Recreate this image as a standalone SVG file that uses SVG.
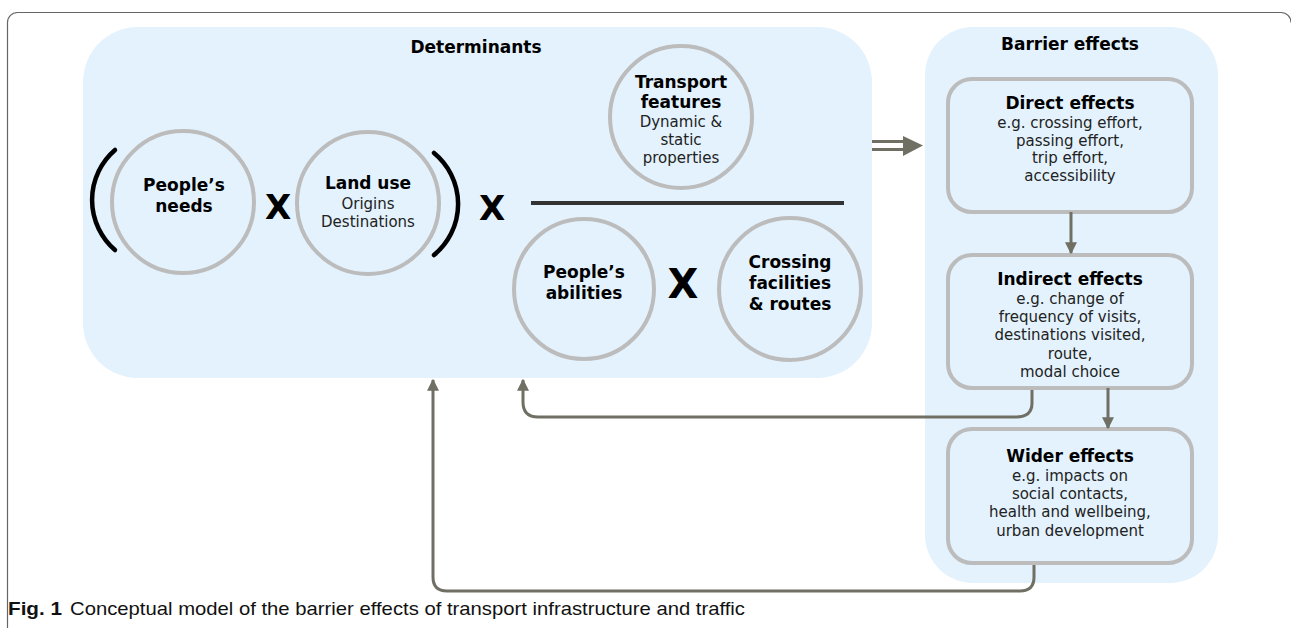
<svg xmlns="http://www.w3.org/2000/svg" width="1291" height="628" viewBox="0 0 1291 628">
<defs>
<style>
.panel{fill:#e3f2fd;stroke:none}
.circ{fill:none;stroke:#bcbcbc;stroke-width:4}
.box{fill:none;stroke:#bcbcbc;stroke-width:4}
.t{font-family:"DejaVu Sans",Verdana,sans-serif;text-anchor:middle;fill:#000}
.b{font-weight:bold;font-size:17px}
.r{font-size:15px;fill:#222}
.x{font-weight:bold;font-size:34px}
.con{fill:none;stroke:#706f63;stroke-width:3}
.paren{fill:none;stroke:#000;stroke-width:4.5;stroke-linecap:round}
.cap{font-family:"Liberation Sans",Arial,sans-serif;font-size:19px;fill:#111}
</style>
<marker id="ah" markerUnits="userSpaceOnUse" markerWidth="12" markerHeight="12" viewBox="0 0 10 10" refX="9" refY="5" orient="auto">
<path d="M0,0 L10,5 L0,10 z" fill="#706f63"/>
</marker>
</defs>
<rect width="1291" height="628" fill="#fff"/>
<path d="M7.5,628 V22.5 A10,10 0 0 1 17.5,12.5 H1281 A10,10 0 0 1 1291,22.5" fill="none" stroke="#666" stroke-width="1.2"/>

<g id="determinants">
<rect class="panel" x="83" y="27" width="789" height="351" rx="55" ry="55"/>
<text class="t b" x="476" y="53">Determinants</text>
</g>
<g id="barrier-effects">
<rect class="panel" x="925" y="27" width="293" height="556" rx="48" ry="48"/>
<text class="t b" x="1070" y="50">Barrier effects</text>
</g>

<g id="peoples-needs">
<circle class="circ" cx="183" cy="202" r="71"/>
<text class="t b" x="184" y="191">People’s</text>
<text class="t b" x="184" y="212">needs</text>
</g>
<g id="land-use">
<circle class="circ" cx="368" cy="203" r="71"/>
<text class="t b" x="368" y="189">Land use</text>
<text class="t r" x="368" y="209">Origins</text>
<text class="t r" x="368" y="227">Destinations</text>
</g>
<g id="operators">
<path class="paren" d="M115,150 A66,66 0 0 0 115,250"/>
<path class="paren" d="M434,153 A66,66 0 0 1 434,255"/>
<text class="t x" x="278" y="219">X</text>
<text class="t x" x="492" y="220">X</text>
<line x1="531" y1="203" x2="844" y2="203" stroke="#333" stroke-width="4"/>
<text class="t x" x="683" y="298" style="font-size:40px">X</text>
</g>
<g id="transport-features">
<circle class="circ" cx="681" cy="117" r="71"/>
<text class="t b" x="681" y="88">Transport</text>
<text class="t b" x="681" y="108">features</text>
<text class="t r" x="681" y="127">Dynamic &amp;</text>
<text class="t r" x="681" y="145">static</text>
<text class="t r" x="681" y="163">properties</text>
</g>
<g id="peoples-abilities">
<circle class="circ" cx="584" cy="289" r="70"/>
<text class="t b" x="584" y="278">People’s</text>
<text class="t b" x="584" y="299">abilities</text>
</g>
<g id="crossing-facilities">
<circle class="circ" cx="790" cy="289" r="71"/>
<text class="t b" x="790" y="268">Crossing</text>
<text class="t b" x="790" y="289">facilities</text>
<text class="t b" x="790" y="310">&amp; routes</text>
</g>

<g id="direct-effects">
<rect class="box" x="948" y="79" width="244" height="133" rx="24" ry="24"/>
<text class="t b" x="1070" y="109">Direct effects</text>
<text class="t r" x="1070" y="128">e.g. crossing effort,</text>
<text class="t r" x="1070" y="146">passing effort,</text>
<text class="t r" x="1070" y="163">trip effort,</text>
<text class="t r" x="1070" y="181">accessibility</text>
</g>
<g id="indirect-effects">
<rect class="box" x="948" y="255" width="244" height="133" rx="24" ry="24"/>
<text class="t b" x="1070" y="285">Indirect effects</text>
<text class="t r" x="1070" y="304">e.g. change of</text>
<text class="t r" x="1070" y="322">frequency of visits,</text>
<text class="t r" x="1070" y="340">destinations visited,</text>
<text class="t r" x="1070" y="359">route,</text>
<text class="t r" x="1070" y="377">modal choice</text>
</g>
<g id="wider-effects">
<rect class="box" x="948" y="429" width="244" height="134" rx="24" ry="24"/>
<text class="t b" x="1070" y="462">Wider effects</text>
<text class="t r" x="1070" y="481">e.g. impacts on</text>
<text class="t r" x="1070" y="499">social contacts,</text>
<text class="t r" x="1070" y="517">health and wellbeing,</text>
<text class="t r" x="1070" y="536">urban development</text>
</g>

<g id="connectors">
<line x1="872" y1="141.5" x2="905" y2="141.5" stroke="#706f63" stroke-width="3"/>
<line x1="872" y1="149.5" x2="905" y2="149.5" stroke="#706f63" stroke-width="3"/>
<path d="M903,136 L923,145.5 L903,156 z" fill="#706f63"/>
<path class="con" d="M1071,212 V253" marker-end="url(#ah)"/>
<path class="con" d="M1108,388 V428" marker-end="url(#ah)"/>
<path class="con" d="M1032,390 V403 Q1032,417 1016,417 H538 Q523,417 523,402 V380" marker-end="url(#ah)"/>
<path class="con" d="M1034,565 V577 Q1034,591 1020,591 H447 Q433,591 433,577 V380" marker-end="url(#ah)"/>
</g>

<g id="caption">
<text class="cap" x="8" y="615" style="font-weight:bold" textLength="54" lengthAdjust="spacingAndGlyphs">Fig. 1</text>
<text class="cap" x="70" y="615" textLength="675" lengthAdjust="spacingAndGlyphs">Conceptual model of the barrier effects of transport infrastructure and traffic</text>
</g>
</svg>
